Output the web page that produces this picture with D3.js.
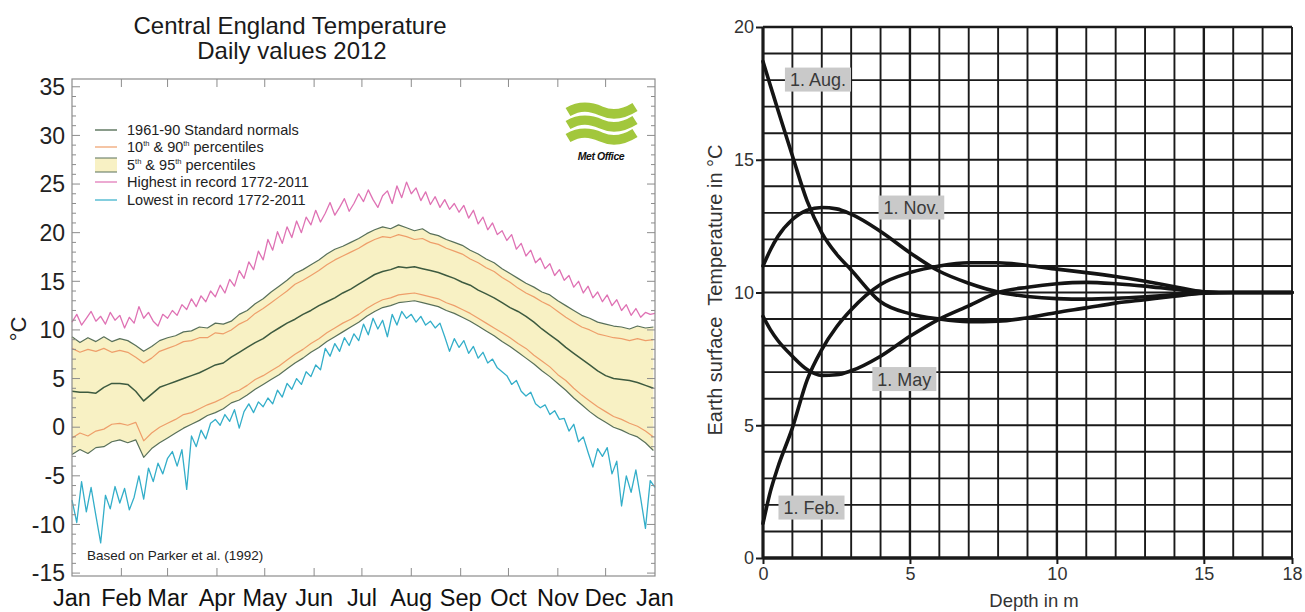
<!DOCTYPE html>
<html>
<head>
<meta charset="utf-8">
<script src="https://cdn.jsdelivr.net/npm/d3@7"></script>
<style>
  html, body { margin: 0; padding: 0; background: #fff; }
  svg { display: block; font-family: "Liberation Sans", Arial, Helvetica, sans-serif; }
</style>
</head>
<body>
<svg id="chart" width="1305" height="612"></svg>
<script>
// ================= Central England Temperature, daily values 2012 =================
const monthLabels = ["Jan","Feb","Mar","Apr","May","Jun","Jul","Aug","Sep","Oct","Nov","Dec","Jan"];
const monthStartDays = [0,31,60,91,121,152,182,213,244,274,305,335,366];
const cetTickValues = [35,30,25,20,15,10,5,0,-5,-10,-15];

// climatology lines, one value every 5 days (day 0 .. 365)
const bandDays = d3.range(0, 366, 5);
const normals1961_90 = [3.7,3.6,3.6,3.5,4.1,4.5,4.5,4.4,3.7,2.7,3.4,4.1,4.4,4.7,5.0,5.3,5.6,6.0,6.4,6.6,
  7.2,7.7,8.2,8.7,9.1,9.7,10.2,10.7,11.1,11.6,12.0,12.5,12.9,13.3,13.8,14.2,14.7,15.2,15.7,16.0,
  16.2,16.5,16.4,16.5,16.3,16.1,15.9,15.6,15.3,14.9,14.6,14.1,13.7,13.3,12.8,12.3,11.9,11.4,10.8,10.1,
  9.5,8.9,8.2,7.6,7.0,6.4,5.8,5.3,5.0,4.9,4.8,4.6,4.3,4.0];
const pct95 = [9.3,8.7,9.2,8.8,9.3,8.8,9.1,8.9,8.4,7.8,8.3,8.9,9.2,9.4,9.8,9.9,10.3,10.2,10.7,10.6,
  10.9,11.6,12.0,12.7,13.2,13.9,14.5,15.1,15.8,16.2,16.7,17.2,17.8,18.3,18.6,19.0,19.4,19.9,20.3,20.6,
  20.4,20.8,20.5,20.2,20.4,19.9,19.7,19.3,19.0,18.7,18.2,17.8,17.3,16.9,16.3,15.8,15.3,14.8,14.4,13.9,
  13.6,13.0,12.5,12.0,11.5,11.2,10.8,10.6,10.4,10.3,10.1,10.4,10.2,10.3];
const pct90 = [8.1,7.7,8.0,7.8,8.1,7.7,7.9,7.7,7.2,6.6,7.1,7.8,8.1,8.4,8.8,8.9,9.2,9.2,9.7,9.6,
  10.0,10.6,11.0,11.7,12.2,12.8,13.4,14.0,14.7,15.1,15.6,16.1,16.7,17.2,17.6,18.0,18.4,18.9,19.3,19.6,
  19.5,19.8,19.6,19.3,19.4,19.0,18.8,18.4,18.1,17.8,17.3,16.9,16.4,16.0,15.4,14.9,14.3,13.8,13.4,12.9,
  12.5,11.9,11.3,10.8,10.3,10.0,9.6,9.4,9.2,9.1,8.9,9.1,8.9,9.0];
const pct10 = [-1.1,-0.6,-0.9,-0.4,-0.2,0.3,0.4,0.2,0.5,-1.4,-0.6,0.0,0.4,0.8,1.3,1.5,1.9,2.3,2.6,3.0,
  3.5,3.8,4.3,4.9,5.3,5.8,6.3,6.9,7.5,8.0,8.6,9.1,9.7,10.2,10.7,11.1,11.6,12.2,12.7,13.1,
  13.3,13.6,13.7,13.8,13.6,13.4,13.2,12.8,12.5,12.1,11.7,11.2,10.7,10.2,9.7,9.2,8.6,8.1,7.4,6.8,
  6.2,5.4,4.8,4.0,3.3,2.7,2.1,1.6,1.1,0.8,0.4,0.1,-0.4,-1.0];
const pct5 = [-2.8,-2.3,-2.7,-2.1,-2.0,-1.5,-1.3,-1.6,-1.3,-3.1,-2.2,-1.6,-1.1,-0.6,-0.1,0.3,0.7,1.2,1.5,1.9,
  2.5,2.8,3.3,3.9,4.4,4.9,5.4,6.0,6.6,7.1,7.7,8.2,8.8,9.3,9.8,10.3,10.8,11.4,11.9,12.3,
  12.5,12.8,12.9,13.0,12.8,12.6,12.4,12.0,11.7,11.3,10.9,10.4,9.9,9.4,8.8,8.3,7.7,7.1,6.5,5.8,
  5.2,4.5,3.8,3.0,2.3,1.6,1.0,0.5,0.0,-0.3,-0.7,-1.0,-1.6,-2.4];

// record extremes 1772-2011, one value every 3 days (day 0 .. 366)
const recordDays = d3.range(0, 367, 3);
const highestRecord = [10.8,11.6,10.5,11.2,11.9,10.9,11.4,10.6,11.8,11.0,11.5,
  10.2,11.3,10.7,12.4,11.2,11.8,10.9,10.4,11.6,
  11.2,12.0,11.5,12.6,12.1,13.2,12.4,13.5,12.9,14.0,13.4,
  14.6,13.8,15.2,14.5,16.1,15.3,17.0,16.2,18.1,17.2,
  19.3,18.2,20.1,18.9,20.6,19.5,21.2,20.0,21.6,20.8,
  22.3,21.1,22.0,23.1,21.8,22.6,23.5,22.2,23.0,24.0,
  23.2,24.4,23.4,22.6,23.8,24.3,23.0,24.8,23.6,25.2,
  24.0,24.6,23.3,24.2,22.9,23.7,22.6,23.4,22.4,23.0,
  22.1,22.8,21.5,22.3,20.9,21.6,20.3,21.0,19.8,20.2,
  19.2,19.8,18.3,18.9,17.6,18.2,16.9,17.4,16.3,16.8,
  15.6,16.2,15.1,15.6,14.4,15.0,13.8,14.5,13.3,13.9,
  12.9,13.6,12.5,13.1,12.0,12.6,11.5,12.2,11.3,11.8,11.6,11.7];
const lowestRecord = [-7.5,-9.8,-5.6,-8.7,-6.2,-9.1,-11.9,-7.0,-8.4,-6.1,-7.8,
  -6.3,-8.5,-7.2,-5.0,-7.4,-4.2,-5.6,-3.7,-4.8,
  -3.2,-2.5,-4.0,-2.3,-6.4,-0.9,-2.0,-0.3,-1.2,0.4,0.8,
  0.2,1.3,0.6,1.8,-0.1,1.6,2.4,1.5,2.6,2.1,
  3.0,2.4,3.8,3.1,4.5,3.9,5.0,4.4,5.7,5.2,
  6.4,5.9,8.1,7.3,8.6,7.8,9.2,8.4,9.6,8.9,
  10.6,9.5,11.2,10.1,11.0,9.3,11.6,10.5,11.9,11.2,
  11.6,10.8,11.4,10.5,10.9,10.2,10.7,9.3,7.8,9.1,
  8.2,8.9,7.6,8.3,7.1,7.7,6.6,7.0,6.1,5.7,
  5.3,4.4,4.8,3.7,3.2,3.6,2.4,2.0,2.3,1.3,
  1.7,0.8,0.9,-0.4,0.3,-1.5,-1.0,-2.6,-4.1,-2.2,
  -3.0,-2.1,-4.8,-3.5,-8.1,-5.0,-6.7,-4.4,-7.3,-10.4,-5.5,-6.2];

// ================= Earth temperature against depth =================
const depthTicks = [0,5,10,15,18];
const surfaceTempTicks = [0,5,10,15,20];
const depthsM = [0,0.25,0.5,1,1.5,2,2.5,3,4,5,6,7,8,9,10,11,12,13,14,15,16,17,18];
const profileFeb = [1.3,2.5,3.4,4.9,6.7,7.85,8.7,9.35,10.3,10.75,11.0,11.12,11.12,11.02,10.88,10.75,10.6,10.42,10.22,10.03,10.0,10.0,10.0];
const profileMay = [9.1,8.6,8.2,7.6,7.1,6.88,6.9,7.05,7.6,8.35,9.0,9.5,10.0,10.2,10.33,10.38,10.33,10.24,10.12,10.02,10.0,10.0,10.0];
const profileAug = [18.7,17.8,16.9,15.15,13.45,12.25,11.45,10.85,9.65,9.2,9.0,8.9,8.92,9.05,9.25,9.42,9.6,9.73,9.86,9.97,10.0,10.0,10.0];
const profileNov = [11.0,11.6,12.1,12.75,13.1,13.2,13.15,12.95,12.3,11.5,10.8,10.35,10.02,9.85,9.77,9.75,9.78,9.84,9.92,9.98,10.0,10.0,10.0];
const profileNames = ["1. Feb.","1. May","1. Aug.","1. Nov."];

const svg = d3.select("#chart");

// ---------------- left panel ----------------
const xL = d3.scaleLinear().domain([0, 366]).range([72, 655]);
const yL = d3.scaleLinear().domain([-15.3, 35.8]).range([576, 79]);
const left = svg.append("g");

const zipBand = arr => bandDays.map((d, i) => [d, arr[i]]);
const zipRec = arr => recordDays.map((d, i) => [d, arr[i]]).filter(p => p[1] !== undefined);

// 5th-95th percentile band
left.append("path")
  .datum(bandDays.map((d, i) => ({ d, lo: pct5[i], hi: pct95[i] })))
  .attr("fill", "#f8f1c4")
  .attr("d", d3.area().x(p => xL(p.d)).y0(p => yL(p.lo)).y1(p => yL(p.hi)));

const line = d3.line().x(p => xL(p[0])).y(p => yL(p[1]));
const seriesStyles = [
  { data: zipRec(highestRecord), color: "#df72b4", w: 1.3 },
  { data: zipRec(lowestRecord), color: "#33aec9", w: 1.3 },
  { data: zipBand(pct95), color: "#58705a", w: 1.2 },
  { data: zipBand(pct5), color: "#58705a", w: 1.2 },
  { data: zipBand(pct90), color: "#ee9e6a", w: 1.2 },
  { data: zipBand(pct10), color: "#ee9e6a", w: 1.2 },
  { data: zipBand(normals1961_90), color: "#3d5a3f", w: 1.5 }
];
seriesStyles.forEach(s => {
  left.append("path").datum(s.data)
    .attr("fill", "none").attr("stroke", s.color)
    .attr("stroke-width", s.w).attr("stroke-linejoin", "round")
    .attr("d", line);
});

// frame and ticks
const [fx0, fx1] = xL.range();
const [fy0, fy1] = yL.range();
left.append("rect").attr("x", fx0).attr("y", fy1).attr("width", fx1 - fx0).attr("height", fy0 - fy1)
  .attr("fill", "none").attr("stroke", "#8c8c8c").attr("stroke-width", 1.2);

const tickG = left.append("g").attr("stroke", "#8c8c8c").attr("stroke-width", 1);
d3.range(-15, 36).forEach(v => {
  const len = v % 5 === 0 ? 8 : 4;
  tickG.append("line").attr("x1", fx0).attr("x2", fx0 + len).attr("y1", yL(v)).attr("y2", yL(v));
  tickG.append("line").attr("x1", fx1).attr("x2", fx1 - len).attr("y1", yL(v)).attr("y2", yL(v));
});
monthStartDays.slice(1, -1).forEach(d => {
  tickG.append("line").attr("x1", xL(d)).attr("x2", xL(d)).attr("y1", fy1).attr("y2", fy1 + 8);
  tickG.append("line").attr("x1", xL(d)).attr("x2", xL(d)).attr("y1", fy0).attr("y2", fy0 - 8);
});

left.append("g").selectAll("text").data(cetTickValues).join("text")
  .attr("x", 65).attr("y", v => yL(v)).attr("dy", "0.36em")
  .attr("text-anchor", "end").attr("font-size", 23).attr("fill", "#222")
  .text(v => v);

left.append("g").selectAll("text").data(monthLabels).join("text")
  .attr("x", (m, i) => xL(monthStartDays[i])).attr("y", 606)
  .attr("text-anchor", "middle").attr("font-size", 23.5).attr("fill", "#111")
  .text(m => m);

left.append("text").attr("transform", "translate(26,329) rotate(-90)")
  .attr("text-anchor", "middle").attr("font-size", 22).attr("fill", "#222").text("°C");

// title
left.append("text").attr("x", 290).attr("y", 34).attr("text-anchor", "middle")
  .attr("font-size", 24).attr("fill", "#1a1a1a").text("Central England Temperature");
left.append("text").attr("x", 292).attr("y", 59).attr("text-anchor", "middle")
  .attr("font-size", 24).attr("fill", "#1a1a1a").text("Daily values 2012");

// legend
const legend = left.append("g").attr("font-size", 14.5).attr("fill", "#222");
const legendRows = [
  { y: 130, kind: "line", color: "#3d5a3f", parts: [["1961-90 Standard normals"]] },
  { y: 147, kind: "line", color: "#ee9e6a", parts: [["10"], ["th", 1], [" & 90"], ["th", 1], [" percentiles"]] },
  { y: 165, kind: "band", color: "#58705a", parts: [["5"], ["th", 1], [" & 95"], ["th", 1], [" percentiles"]] },
  { y: 182, kind: "line", color: "#df72b4", parts: [["Highest in record 1772-2011"]] },
  { y: 200, kind: "line", color: "#33aec9", parts: [["Lowest in record 1772-2011"]] }
];
legendRows.forEach(r => {
  if (r.kind === "band") {
    legend.append("rect").attr("x", 95).attr("y", r.y - 7).attr("width", 22).attr("height", 14).attr("fill", "#f8f1c4");
    legend.append("line").attr("x1", 95).attr("x2", 117).attr("y1", r.y - 7).attr("y2", r.y - 7).attr("stroke", r.color);
    legend.append("line").attr("x1", 95).attr("x2", 117).attr("y1", r.y + 7).attr("y2", r.y + 7).attr("stroke", r.color);
  } else {
    legend.append("line").attr("x1", 95).attr("x2", 117).attr("y1", r.y).attr("y2", r.y)
      .attr("stroke", r.color).attr("stroke-width", 1.2);
  }
  const t = legend.append("text").attr("x", 127).attr("y", r.y).attr("dy", "0.36em");
  r.parts.forEach(p => {
    const ts = t.append("tspan").text(p[0]);
    if (p[1]) ts.attr("font-size", 7.5).attr("baseline-shift", "70%");
  });
});

left.append("text").attr("x", 87).attr("y", 560).attr("font-size", 13.5).attr("fill", "#222")
  .text("Based on Parker et al. (1992)");

// Met Office mark
const logo = left.append("g").attr("fill", "none").attr("stroke", "#a2c73c").attr("stroke-width", 9.5);
[110, 123, 136].forEach(y => {
  logo.append("path").attr("d",
    `M568,${y + 2} C580,${y - 5} 590,${y - 4} 601,${y + 1} C612,${y + 6} 624,${y + 4} 635,${y - 3}`);
});
left.append("text").attr("x", 601).attr("y", 160).attr("text-anchor", "middle")
  .attr("font-size", 10.5).attr("font-weight", "bold").attr("font-style", "italic")
  .attr("fill", "#111").attr("letter-spacing", -0.4).text("Met Office");

// ---------------- right panel ----------------
const xR = d3.scaleLinear().domain([0, 18]).range([763, 1292]);
const yR = d3.scaleLinear().domain([0, 20]).range([558, 27]);
const right = svg.append("g");

const gridG = right.append("g").attr("stroke", "#1a1a1a");
d3.range(0, 19).forEach(v => {
  gridG.append("line").attr("x1", xR(v)).attr("x2", xR(v)).attr("y1", yR(0)).attr("y2", yR(20))
    .attr("stroke-width", v === 0 ? 3.2 : (v % 5 === 0 ? 2.4 : 1.9));
});
d3.range(0, 21).forEach(v => {
  gridG.append("line").attr("x1", xR(0)).attr("x2", xR(18)).attr("y1", yR(v)).attr("y2", yR(v))
    .attr("stroke-width", v === 0 ? 3.4 : (v === 20 ? 2.4 : 1.9));
});

const xAxisR = right.append("g").attr("transform", `translate(0,${yR(0)})`)
  .call(d3.axisBottom(xR).tickValues(depthTicks).tickSize(6).tickPadding(3));
const yAxisR = right.append("g").attr("transform", `translate(${xR(0)},0)`)
  .call(d3.axisLeft(yR).tickValues(surfaceTempTicks).tickSize(7).tickPadding(2));
[xAxisR, yAxisR].forEach(g => {
  g.select(".domain").remove();
  g.selectAll("line").attr("stroke", "#1a1a1a").attr("stroke-width", 2);
  g.selectAll("text").attr("font-size", 18).attr("fill", "#333")
    .attr("font-family", "'Liberation Sans', Arial, sans-serif");
});

right.append("text").attr("x", 1034).attr("y", 607).attr("text-anchor", "middle")
  .attr("font-size", 18.5).attr("fill", "#333").text("Depth in m");
right.append("text").attr("transform", "translate(722,290) rotate(-90)")
  .attr("text-anchor", "middle").attr("font-size", 20).attr("fill", "#333")
  .style("white-space", "pre")
  .text("Earth surface  Temperature in °C");

const profileLine = d3.line().x(p => xR(p[0])).y(p => yR(p[1])).curve(d3.curveMonotoneX);
[profileFeb, profileMay, profileAug, profileNov].forEach(vals => {
  right.append("path").datum(depthsM.map((d, i) => [d, vals[i]]))
    .attr("fill", "none").attr("stroke", "#141414").attr("stroke-width", 3.6)
    .attr("stroke-linecap", "round").attr("d", profileLine);
});

// date labels on grey boxes (anchored in depth / temperature units)
const labelAnchors = [[1.65, 1.9], [4.81, 6.74], [1.87, 18.02], [5.05, 13.2]];
profileNames.forEach((name, i) => {
  const [dx, ty] = labelAnchors[i];
  const g = right.append("g");
  const t = g.append("text").attr("x", xR(dx)).attr("y", yR(ty)).attr("dy", "0.36em")
    .attr("text-anchor", "middle").attr("font-size", 18).attr("fill", "#3a3a3a").text(name);
  const w = t.node().getComputedTextLength() + 10;
  g.insert("rect", "text").attr("x", xR(dx) - w / 2).attr("y", yR(ty) - 12)
    .attr("width", w).attr("height", 24).attr("fill", "#c9c9c9");
});
</script>
</body>
</html>
